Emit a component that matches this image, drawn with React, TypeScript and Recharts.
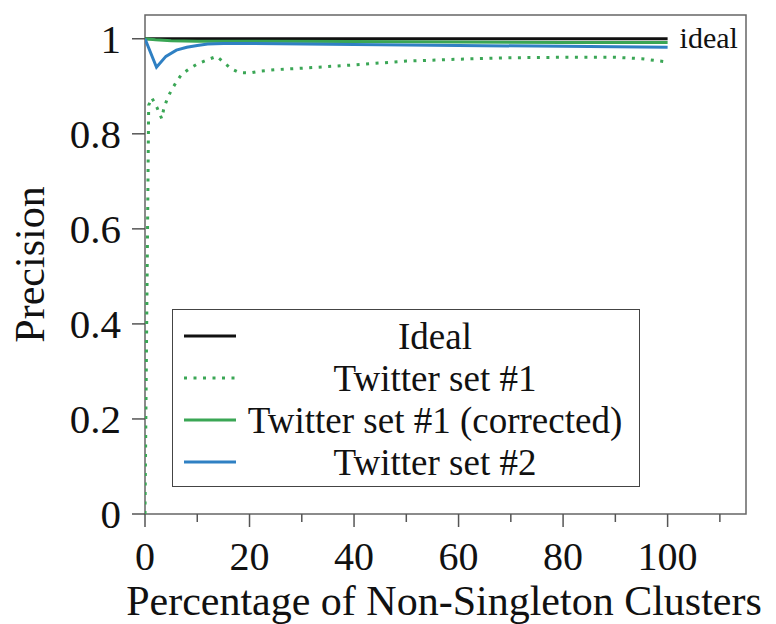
import { LineChart, Line, XAxis, YAxis, Legend, ReferenceArea, LabelList, Label } from 'recharts';

const xTicks = [0, 10, 20, 30, 40, 50, 60, 70, 80, 90, 100, 110];
const yTicks = [0, 0.2, 0.4, 0.6, 0.8, 1];

const idealX = [0, 100];
const idealY = [1, 1];

const set1X = [0, 0.7, 1.3, 2.3, 3.2, 3.6, 4.2, 5, 6, 7, 8.5, 10, 12, 13.7, 15, 16.5, 18, 20, 22, 25, 30, 40, 50, 60, 70, 80, 90, 95, 100];
const set1Y = [0, 0.86, 0.876, 0.855, 0.832, 0.853, 0.872, 0.891, 0.909, 0.925, 0.937, 0.947, 0.956, 0.963, 0.951, 0.937, 0.929, 0.928, 0.932, 0.935, 0.938, 0.945, 0.953, 0.957, 0.96, 0.961, 0.961, 0.958, 0.951];

const correctedX = [0, 2, 5, 10, 20, 40, 60, 80, 100];
const correctedY = [1, 0.998, 0.996, 0.995, 0.995, 0.994, 0.993, 0.992, 0.992];

const set2X = [0, 2.2, 4, 6, 8, 10, 12, 15, 20, 40, 60, 80, 100];
const set2Y = [1, 0.94, 0.963, 0.976, 0.982, 0.986, 0.989, 0.99, 0.99, 0.988, 0.986, 0.984, 0.982];

const toPoints = (xs: number[], ys: number[]) => xs.map((x, i) => ({ x, y: ys[i] }));

const serif = '"Liberation Serif", "Times New Roman", serif';
const GREEN = '#3aa655';
const BLUE = '#2f80c3';

function XTick({ x, y, payload }: any) {
  const major = payload.value % 20 === 0;
  return (
    <g>
      <line x1={x} x2={x} y1={y} y2={y + (major ? 13 : 8)} stroke="#555" strokeWidth={1.5} />
      {major && (
        <text x={x} y={y + 56} textAnchor="middle" fontFamily={serif} fontSize={40} fill="#111">
          {payload.value}
        </text>
      )}
    </g>
  );
}

function YTick({ x, y, payload }: any) {
  return (
    <g>
      <line x1={x - 13} x2={x} y1={y} y2={y} stroke="#555" strokeWidth={1.5} />
      <text x={x - 24} y={y + 14} textAnchor="end" fontFamily={serif} fontSize={41} fill="#111">
        {payload.value}
      </text>
    </g>
  );
}

function LegendBox({ payload }: any) {
  return (
    <div style={{ border: '1.5px solid #444', background: '#fff', width: 468, height: 178, paddingTop: 5, boxSizing: 'border-box' }}>
      {(payload || []).map((p: any) => (
        <div key={p.value} style={{ display: 'flex', alignItems: 'center', height: 42 }}>
          <svg width={64} height={10} style={{ flex: 'none' }}>
            <line
              x1={11}
              x2={63}
              y1={5}
              y2={5}
              stroke={p.color}
              strokeWidth={3}
              strokeDasharray={p.payload?.strokeDasharray}
            />
          </svg>
          <div style={{ flex: 1, textAlign: 'center', fontFamily: serif, fontSize: 37, color: '#111', paddingRight: 6, whiteSpace: 'nowrap' }}>
            {p.value}
          </div>
        </div>
      ))}
    </div>
  );
}

function IdealLabel({ x, y, index }: any) {
  if (index !== idealX.length - 1) return null;
  return (
    <text x={x + 12} y={y + 9} fontFamily={serif} fontSize={30} fill="#111">
      ideal
    </text>
  );
}

export default function App() {
  return (
    <div style={{ position: 'absolute', left: 0, top: 0, background: '#fff' }}>
      <LineChart width={776} height={624} margin={{ top: 15, right: 30, bottom: 0, left: 0 }}>
        <ReferenceArea x1={0} x2={115} y1={0} y2={1.05} fill="none" stroke="#666" strokeWidth={1.5} />
        <XAxis
          type="number"
          dataKey="x"
          domain={[0, 115]}
          ticks={xTicks}
          interval={0}
          height={110}
          axisLine={false}
          tickLine={false}
          tickSize={0}
          tickMargin={0}
          tick={<XTick />}
          allowDataOverflow
        >
          <Label
            content={({ viewBox }: any) => (
              <text x={444} y={viewBox.y + 101} textAnchor="middle" fontFamily={serif} fontSize={42} fill="#111">
                Percentage of Non-Singleton Clusters
              </text>
            )}
          />
        </XAxis>
        <YAxis
          type="number"
          domain={[0, 1.05]}
          ticks={yTicks}
          interval={0}
          width={145}
          axisLine={false}
          tickLine={false}
          tickSize={0}
          tickMargin={0}
          tick={<YTick />}
          allowDataOverflow
        >
          <Label
            content={({ viewBox }: any) => (
              <text
                x={44}
                y={viewBox.y + viewBox.height / 2}
                textAnchor="middle"
                fontFamily={serif}
                fontSize={42}
                fill="#111"
                transform={`rotate(-90 44 ${viewBox.y + viewBox.height / 2})`}
              >
                Precision
              </text>
            )}
          />
        </YAxis>
        <Legend
          layout="vertical"
          align="center"
          verticalAlign="middle"
          content={<LegendBox />}
          wrapperStyle={{ position: 'absolute', left: 172, top: 309, width: 470, height: 180 }}
        />
        <Line data={toPoints(idealX, idealY)} dataKey="y" name="Ideal" stroke="#111" strokeWidth={3} dot={false} isAnimationActive={false}>
          <LabelList dataKey="y" content={<IdealLabel />} />
        </Line>
        <Line
          data={toPoints(set1X, set1Y)}
          dataKey="y"
          name="Twitter set #1"
          stroke={GREEN}
          strokeWidth={3}
          strokeDasharray="3 6.5"
          dot={false}
          isAnimationActive={false}
        />
        <Line data={toPoints(correctedX, correctedY)} dataKey="y" name="Twitter set #1 (corrected)" stroke={GREEN} strokeWidth={3} dot={false} isAnimationActive={false} />
        <Line data={toPoints(set2X, set2Y)} dataKey="y" name="Twitter set #2" stroke={BLUE} strokeWidth={3} dot={false} isAnimationActive={false} />
      </LineChart>
    </div>
  );
}
